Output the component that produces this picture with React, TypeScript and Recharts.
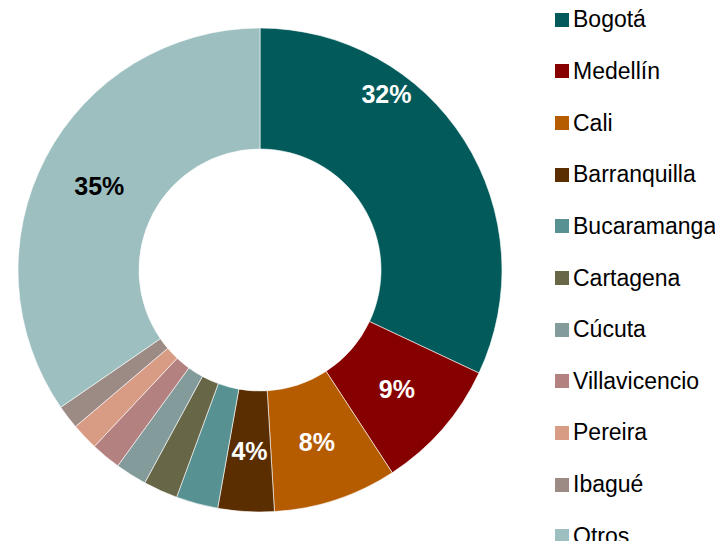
import React from "react";
import { PieChart, Pie, Cell, Legend } from "recharts";

const cities = [
  "Bogotá",
  "Medellín",
  "Cali",
  "Barranquilla",
  "Bucaramanga",
  "Cartagena",
  "Cúcuta",
  "Villavicencio",
  "Pereira",
  "Ibagué",
  "Otros"
];

const shares = [32.0, 8.8, 8.25, 3.75, 2.8, 2.3, 2.1, 2.0, 1.8, 1.6, 34.6];

const colors = [
  "#025a5a",
  "#870000",
  "#b55b00",
  "#5a2e00",
  "#579191",
  "#676646",
  "#839b9b",
  "#b48181",
  "#d89b84",
  "#9c8b85",
  "#9ebfc0"
];

const labelColors = ["#fff", "#fff", "#fff", "#fff", "#fff", "#fff", "#fff", "#fff", "#fff", "#fff", "#000"];

const data = cities.map((name, i) => ({ name, value: shares[i] }));

const RAD = Math.PI / 180;

// where inside the slice the label sits: t = along the arc, r = across the ring
const labelSpot = (index) => (index === 0 ? { t: 0.31, r: 0.79 } : { t: 0.5, r: 0.5 });

const renderLabel = (props) => {
  const { cx, cy, innerRadius, outerRadius, startAngle, endAngle, percent, index } = props;
  if (percent < 0.03) return null;
  const spot = labelSpot(index);
  const angle = startAngle + spot.t * (endAngle - startAngle);
  const r = innerRadius + spot.r * (outerRadius - innerRadius);
  const x = cx + r * Math.cos(angle * RAD);
  const y = cy - r * Math.sin(angle * RAD);
  return (
    <text
      x={x}
      y={y}
      fill={labelColors[index]}
      textAnchor="middle"
      dominantBaseline="central"
      style={{ fontFamily: "'Liberation Sans', Arial, sans-serif", fontSize: 25, fontWeight: "bold" }}
    >
      {`${Math.round(percent * 100)}%`}
    </text>
  );
};

const renderLegend = () => (
  <div style={{ fontFamily: "'Liberation Sans', Arial, sans-serif", fontSize: 23, color: "#000" }}>
    {cities.map((c, i) => (
      <div key={c} style={{ height: 51.65, display: "flex", alignItems: "center", whiteSpace: "nowrap" }}>
        <span style={{ width: 14, height: 14, background: colors[i], marginRight: 4, display: "inline-block" }} />
        <span>{c}</span>
      </div>
    ))}
  </div>
);

export default function App() {
  return (
    <PieChart width={715} height={533} margin={{ top: 0, right: 0, bottom: 0, left: 0 }}>
      <Pie
        data={data}
        dataKey="value"
        nameKey="name"
        cx={252}
        cy={262}
        innerRadius={121}
        outerRadius={242}
        startAngle={90}
        endAngle={-270}
        stroke="#ffffff"
        strokeWidth={0.6}
        labelLine={false}
        label={renderLabel}
        isAnimationActive={false}
      >
        {data.map((d, i) => (
          <Cell key={d.name} fill={colors[i]} />
        ))}
      </Pie>
      <Legend
        content={renderLegend}
        wrapperStyle={{ position: "absolute", left: 547, top: -14, width: 170 }}
      />
    </PieChart>
  );
}
